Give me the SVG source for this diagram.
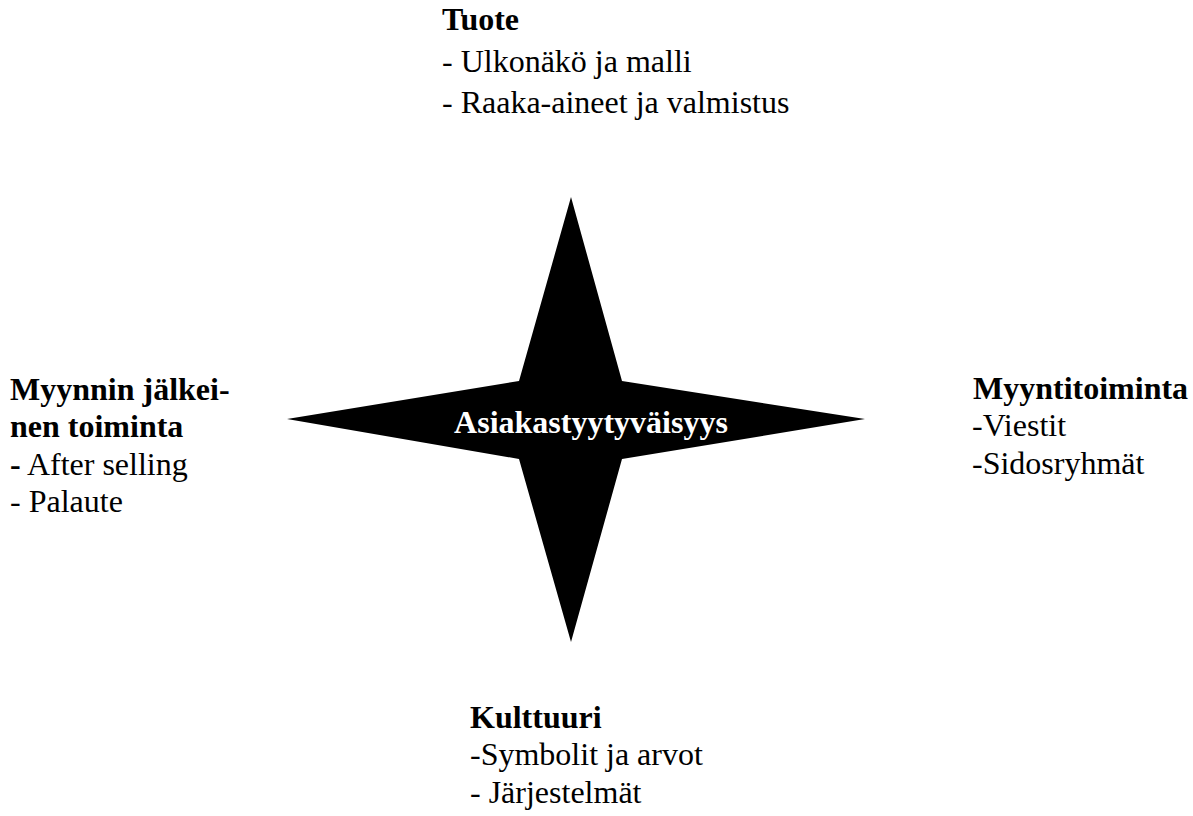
<svg xmlns="http://www.w3.org/2000/svg" width="1193" height="816" viewBox="0 0 1193 816">
<style>
text{font-family:"Liberation Serif","Times New Roman",serif;font-size:32px;fill:#000}
.b{font-weight:bold}
.c{fill:#fff;font-weight:bold}
</style>
<rect width="1193" height="816" fill="#fff"/>
<g id="center">
<polygon points="571,197 622,381 865,419 622,459 571,642 519,459 287,419 519,381" fill="#000"/>
<text class="c" x="591" y="433" text-anchor="middle">Asiakastyytyväisyys</text>
</g>
<g id="tuote">
<text class="b" x="442" y="30">Tuote</text>
<text x="442" y="72">- Ulkonäkö ja malli</text>
<text x="442" y="113">- Raaka-aineet ja valmistus</text>
</g>
<g id="myynnin">
<text class="b" x="10" y="400">Myynnin jälkei-</text>
<text class="b" x="10" y="437">nen toiminta</text>
<text x="10" y="475"><tspan class="b">-</tspan> After selling</text>
<text x="10" y="512">- Palaute</text>
</g>
<g id="myyntitoiminta">
<text class="b" x="973" y="399">Myyntitoiminta</text>
<text x="972" y="436">-Viestit</text>
<text x="972" y="474">-Sidosryhmät</text>
</g>
<g id="kulttuuri">
<text class="b" x="470" y="728">Kulttuuri</text>
<text x="470" y="765">-Symbolit ja arvot</text>
<text x="470" y="803">- Järjestelmät</text>
</g>
<g id="connectors"></g>
</svg>
